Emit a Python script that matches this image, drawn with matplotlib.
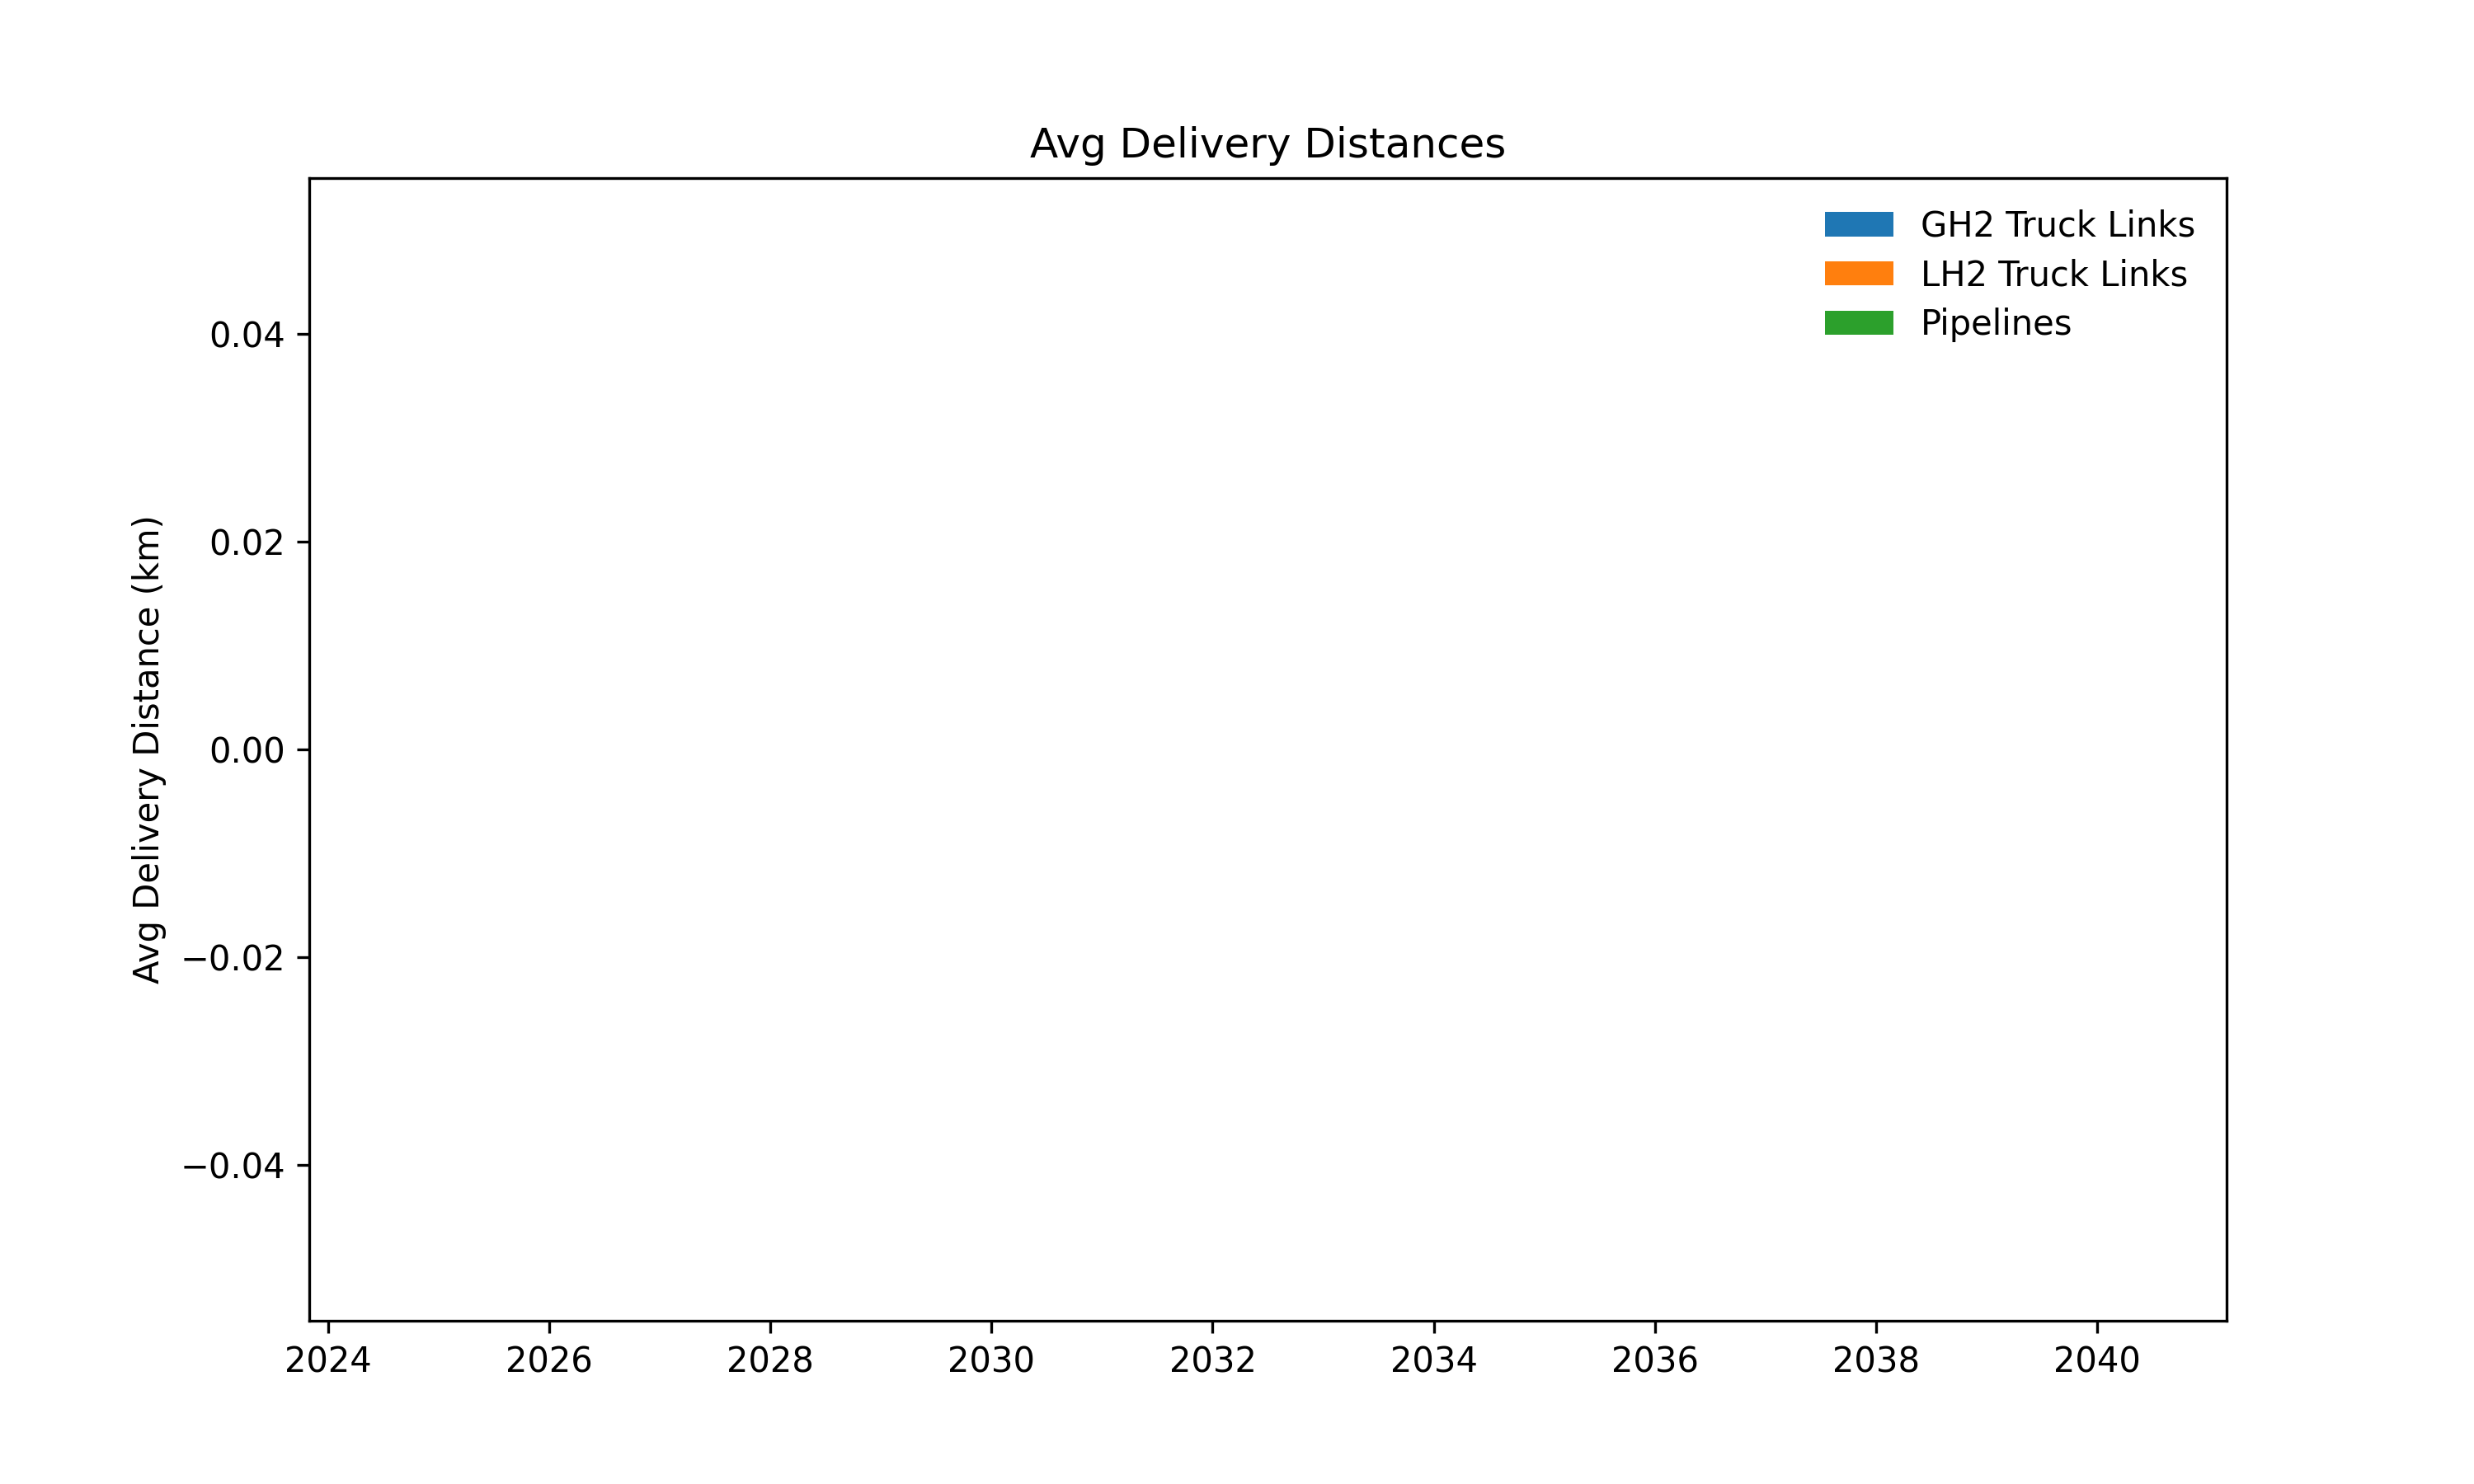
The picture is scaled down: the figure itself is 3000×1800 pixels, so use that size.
import matplotlib
matplotlib.use('Agg')
import matplotlib.pyplot as plt
import numpy as np

years = list(range(2025, 2041))
gh2_truck = [0.0] * len(years)
lh2_truck = [0.0] * len(years)
pipelines = [0.0] * len(years)

fig, ax = plt.subplots(figsize=(10, 6), dpi=300)

# stacked bars, one layer per delivery mode
bottom = np.zeros(len(years))
for vals, label in [(gh2_truck, 'GH2 Truck Links'),
                    (lh2_truck, 'LH2 Truck Links'),
                    (pipelines, 'Pipelines')]:
    ax.bar(years, vals, bottom=bottom, width=0.76, label=label)
    bottom = bottom + np.array(vals)

ax.set_title('Avg Delivery Distances')
ax.set_ylabel('Avg Delivery Distance (km)')
ax.legend(frameon=False, labelspacing=0.43)

fig.savefig('out.png', dpi=300)
